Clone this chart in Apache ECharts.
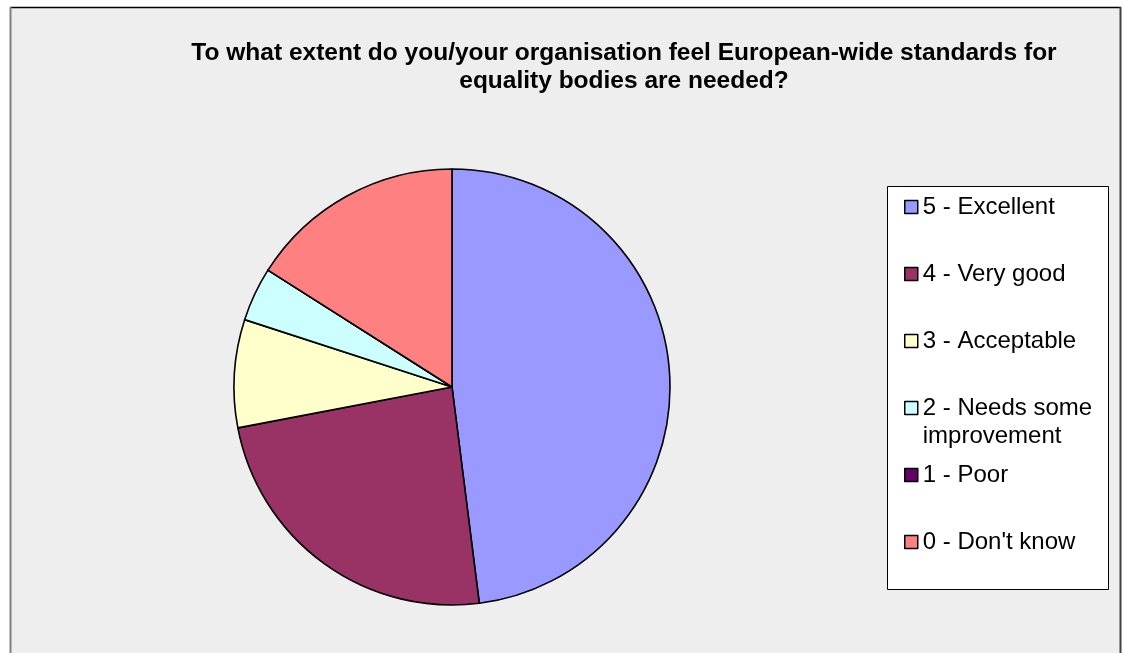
<!DOCTYPE html>
<html>
<head>
<meta charset="utf-8">
<title>European-wide standards for equality bodies</title>
<script src="https://cdn.jsdelivr.net/npm/echarts@6/dist/echarts.min.js"></script>
<style>
  html, body { margin: 0; padding: 0; background: #ffffff; }
  #chart { width: 1125px; height: 653px; }
</style>
</head>
<body>
<div id="chart"></div>
<script>
// Survey answers: number of respondents per rating
const titleText = 'To what extent do you/your organisation feel European-wide standards for\nequality bodies are needed?';
const categories = [
  '5 - Excellent',
  '4 - Very good',
  '3 - Acceptable',
  '2 - Needs some\nimprovement',
  '1 - Poor',
  "0 - Don't know"
];
const counts = [12, 6, 2, 1, 0, 4];
const sliceColors = ['#9999FF', '#993366', '#FFFFCC', '#CCFFFF', '#660066', '#FF8080'];

const chart = echarts.init(document.getElementById('chart'), null, { renderer: 'canvas' });

const pieData = categories.map((name, i) => ({
  name: name,
  value: counts[i],
  itemStyle: { color: sliceColors[i] }
}));

// Legend entries sit on a fixed vertical pitch. A wrapped label gets blank
// lines above it so that its marker (centred on the text block) stays level
// with the first line while the rest hangs below.
const LEGEND_LEFT = 904;
const LEGEND_FIRST_CENTER = 207;
const LEGEND_PITCH = 67;
const LINE_H = 28;

function padWrapped(name) {
  const lines = name.split('\n').length;
  return '\n'.repeat(lines - 1) + name;
}

const legends = categories.map((name, i) => {
  const shown = padWrapped(name).split('\n').length;
  const center = LEGEND_FIRST_CENTER + i * LEGEND_PITCH;
  return {
    orient: 'vertical',
    left: LEGEND_LEFT,
    top: center - (LINE_H * shown) / 2,
    padding: 0,
    itemWidth: 13,
    itemHeight: 13,
    icon: 'rect',
    selectedMode: false,
    data: [name],
    formatter: padWrapped,
    itemStyle: { borderColor: '#000000', borderWidth: 1.5 },
    textStyle: {
      fontFamily: 'Liberation Sans, Arial, sans-serif',
      fontSize: 24,
      lineHeight: LINE_H,
      color: '#000000'
    }
  };
});

const option = {
  animation: false,
  backgroundColor: '#ffffff',
  graphic: [
    // chart area panel
    { type: 'rect', z: 0, silent: true,
      shape: { x: 10, y: 7, width: 1111, height: 660 },
      style: { fill: '#eeeeee' } },
    { type: 'line', z: 1, silent: true,
      shape: { x1: 10, y1: 7.5, x2: 1121, y2: 7.5 },
      style: { stroke: '#000000', lineWidth: 1.5 } },
    { type: 'line', z: 1, silent: true,
      shape: { x1: 10.5, y1: 7, x2: 10.5, y2: 653 },
      style: { stroke: '#808080', lineWidth: 2 } },
    { type: 'line', z: 1, silent: true,
      shape: { x1: 1120.5, y1: 7, x2: 1120.5, y2: 653 },
      style: { stroke: '#404040', lineWidth: 2 } },
    // legend frame
    { type: 'rect', z: 1, silent: true,
      shape: { x: 887.5, y: 186.5, width: 221, height: 403 },
      style: { fill: '#ffffff', stroke: '#000000', lineWidth: 1 } }
  ],
  title: {
    text: titleText,
    left: 624,
    top: 39,
    padding: 0,
    textAlign: 'center',
    textVerticalAlign: 'top',
    textStyle: {
      fontFamily: 'Liberation Sans, Arial, sans-serif',
      fontWeight: 'bold',
      fontSize: 24.5,
      lineHeight: 28,
      color: '#000000'
    }
  },
  legend: legends,
  series: [{
    type: 'pie',
    center: [452, 387],
    radius: 218,
    startAngle: 90,
    clockwise: true,
    avoidLabelOverlap: false,
    label: { show: false },
    labelLine: { show: false },
    emphasis: { disabled: true },
    itemStyle: { borderColor: '#000000', borderWidth: 1.6 },
    data: pieData
  }]
};

chart.setOption(option);
</script>
</body>
</html>
